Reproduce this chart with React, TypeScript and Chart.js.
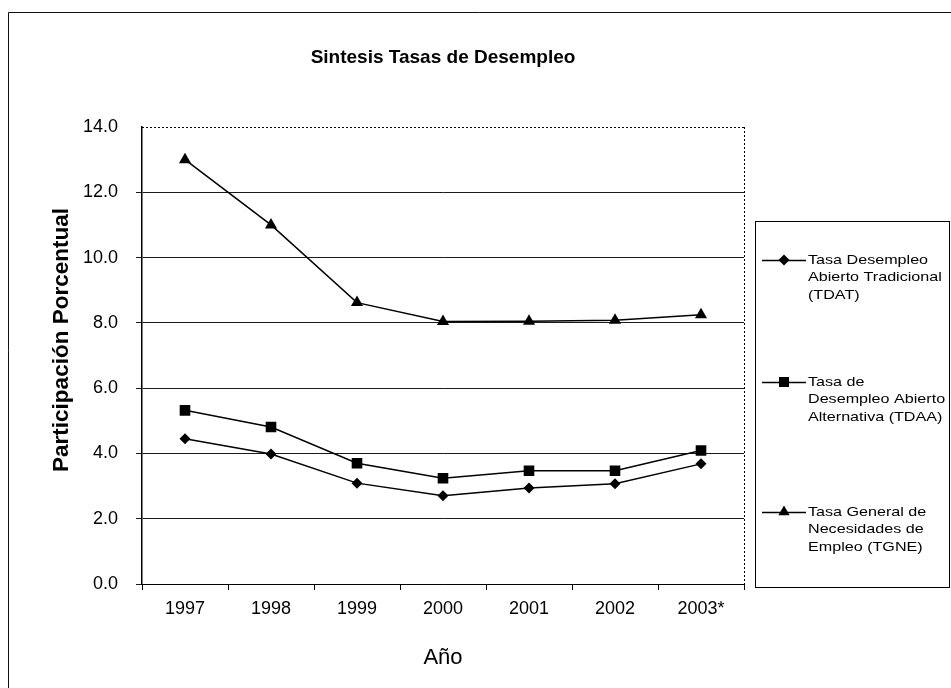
import React, { useEffect, useRef } from "react";
import { Chart, registerables } from "chart.js";

Chart.register(...registerables);

const categories = ["1997", "1998", "1999", "2000", "2001", "2002", "2003*"];
const tdatValues = [4.45, 3.98, 3.09, 2.7, 2.94, 3.07, 3.68];
const tdaaValues = [5.32, 4.81, 3.7, 3.24, 3.47, 3.47, 4.09];
const tgneValues = [13.0, 11.0, 8.62, 8.04, 8.05, 8.08, 8.25];

const seriesLabels = [
  "Tasa Desempleo Abierto Tradicional (TDAT)",
  "Tasa de Desempleo Abierto Alternativa (TDAA)",
  "Tasa General de Necesidades de Empleo (TGNE)",
];
const legendLines = [
  ["Tasa Desempleo", "Abierto Tradicional", "(TDAT)"],
  ["Tasa de", "Desempleo Abierto", "Alternativa (TDAA)"],
  ["Tasa General de", "Necesidades de", "Empleo (TGNE)"],
];
const chartTitle = "Sintesis Tasas de Desempleo";
const xTitle = "Año";
const yTitle = "Participación Porcentual";

const FONT = "'Liberation Sans', Arial, sans-serif";

function drawMarker(ctx: CanvasRenderingContext2D, style: string, x: number, y: number) {
  ctx.beginPath();
  if (style === "rectRot") {
    const r = 5.5;
    ctx.moveTo(x, y - r);
    ctx.lineTo(x + r, y);
    ctx.lineTo(x, y + r);
    ctx.lineTo(x - r, y);
  } else if (style === "rect") {
    const s = 5;
    ctx.rect(x - s, y - s, 2 * s, 2 * s);
  } else {
    const r = 6.5;
    ctx.moveTo(x, y - r);
    ctx.lineTo(x + r * 0.866, y + r * 0.5);
    ctx.lineTo(x - r * 0.866, y + r * 0.5);
  }
  ctx.closePath();
  ctx.fillStyle = "#000";
  ctx.fill();
}

const decorPlugin = {
  id: "decor",
  afterDraw(chart: any) {
    const ctx: CanvasRenderingContext2D = chart.ctx;
    const a = chart.chartArea;
    ctx.save();
    // outer frame
    ctx.strokeStyle = "#111";
    ctx.lineWidth = 1;
    ctx.setLineDash([]);
    ctx.beginPath();
    ctx.moveTo(8.5, 688);
    ctx.lineTo(8.5, 12.5);
    ctx.lineTo(951, 12.5);
    ctx.stroke();

    // dotted top and right border of plot area
    ctx.setLineDash([2, 2]);
    ctx.strokeStyle = "#000";
    ctx.beginPath();
    ctx.moveTo(a.left, Math.round(a.top) + 0.5);
    ctx.lineTo(a.right, Math.round(a.top) + 0.5);
    ctx.moveTo(Math.round(a.right) + 0.5, a.top);
    ctx.lineTo(Math.round(a.right) + 0.5, a.bottom);
    ctx.stroke();
    ctx.setLineDash([]);

    const cx = (a.left + a.right) / 2;
    ctx.fillStyle = "#000";
    ctx.textAlign = "center";
    ctx.textBaseline = "middle";
    ctx.font = `bold 19px ${FONT}`;
    ctx.fillText(chartTitle, cx, 58);
    ctx.font = `22px ${FONT}`;
    ctx.fillText(xTitle, cx, 658);
    ctx.save();
    ctx.translate(62, 340);
    ctx.rotate(-Math.PI / 2);
    ctx.font = `bold 22.5px ${FONT}`;
    ctx.fillText(yTitle, 0, 0);
    ctx.restore();

    // legend box
    ctx.strokeStyle = "#000";
    ctx.lineWidth = 1;
    ctx.strokeRect(755.5, 221.5, 194, 366);
    const starts = [260, 382, 512];
    const styles = ["rectRot", "rect", "triangle"];
    ctx.textAlign = "left";
    ctx.font = `13px ${FONT}`;
    legendLines.forEach((lines, i) => {
      const y = starts[i];
      ctx.beginPath();
      ctx.moveTo(762, y + 0.5);
      ctx.lineTo(806, y + 0.5);
      ctx.lineWidth = 1.5;
      ctx.stroke();
      drawMarker(ctx, styles[i], 784, y);
      ctx.fillStyle = "#000";
      lines.forEach((t, j) => {
        ctx.save();
        ctx.translate(808, y + j * 17.5);
        ctx.scale(1.24, 1);
        ctx.fillText(t, 0, 0);
        ctx.restore();
      });
    });
    ctx.restore();
  },
};

export default function App() {
  const ref = useRef<HTMLCanvasElement | null>(null);
  useEffect(() => {
    document.body.style.margin = "0";
    const canvas = ref.current!;
    const mk = (label: string, data: number[], pointStyle: string, radius: number) => ({
      label,
      data,
      borderColor: "#000",
      backgroundColor: "#000",
      borderWidth: 1.5,
      pointStyle,
      pointRadius: radius,
      pointBorderWidth: 0,
      pointBackgroundColor: "#000",
      tension: 0,
    });
    const chart = new Chart(canvas, {
      type: "line",
      data: {
        labels: categories,
        datasets: [
          mk(seriesLabels[0], tdatValues, "rectRot", 5.5),
          mk(seriesLabels[1], tdaaValues, "rect", 7.5),
          mk(seriesLabels[2], tgneValues, "triangle", 7),
        ],
      },
      options: {
        animation: false,
        responsive: false,
        devicePixelRatio: 1,
        layout: { padding: { left: 0, top: 127, right: 207, bottom: 0 } },
        plugins: {
          legend: { display: false },
          title: { display: false },
          tooltip: { enabled: false },
        },
        scales: {
          x: {
            type: "category",
            offset: true,
            grid: {
              offset: true,
              drawOnChartArea: false,
              drawTicks: true,
              tickLength: 6,
              color: "#000",
            },
            border: { display: true, color: "#000", width: 1 },
            ticks: {
              color: "#000",
              font: { family: FONT, size: 18 },
              padding: 8,
              maxRotation: 0,
              autoSkip: false,
            },
            afterFit: (s: any) => {
              s.height = 104;
            },
          },
          y: {
            min: 0,
            max: 14,
            ticks: {
              stepSize: 2,
              color: "#000",
              font: { family: FONT, size: 18 },
              padding: 18,
              callback: (v: any) => Number(v).toFixed(1),
            },
            grid: {
              color: (c: any) => (c.tick && c.tick.value === 14 ? "rgba(0,0,0,0)" : "#1a1a1a"),
              lineWidth: 1,
              drawTicks: true,
              tickLength: 6,
            },
            border: { display: true, color: "#000", width: 1.5 },
            afterFit: (s: any) => {
              s.width = 142;
            },
          },
        },
      },
      plugins: [decorPlugin],
    } as any);
    return () => chart.destroy();
  }, []);
  return (
    <canvas
      ref={ref}
      width={951}
      height={688}
      style={{ display: "block", width: 951, height: 688 }}
    />
  );
}
